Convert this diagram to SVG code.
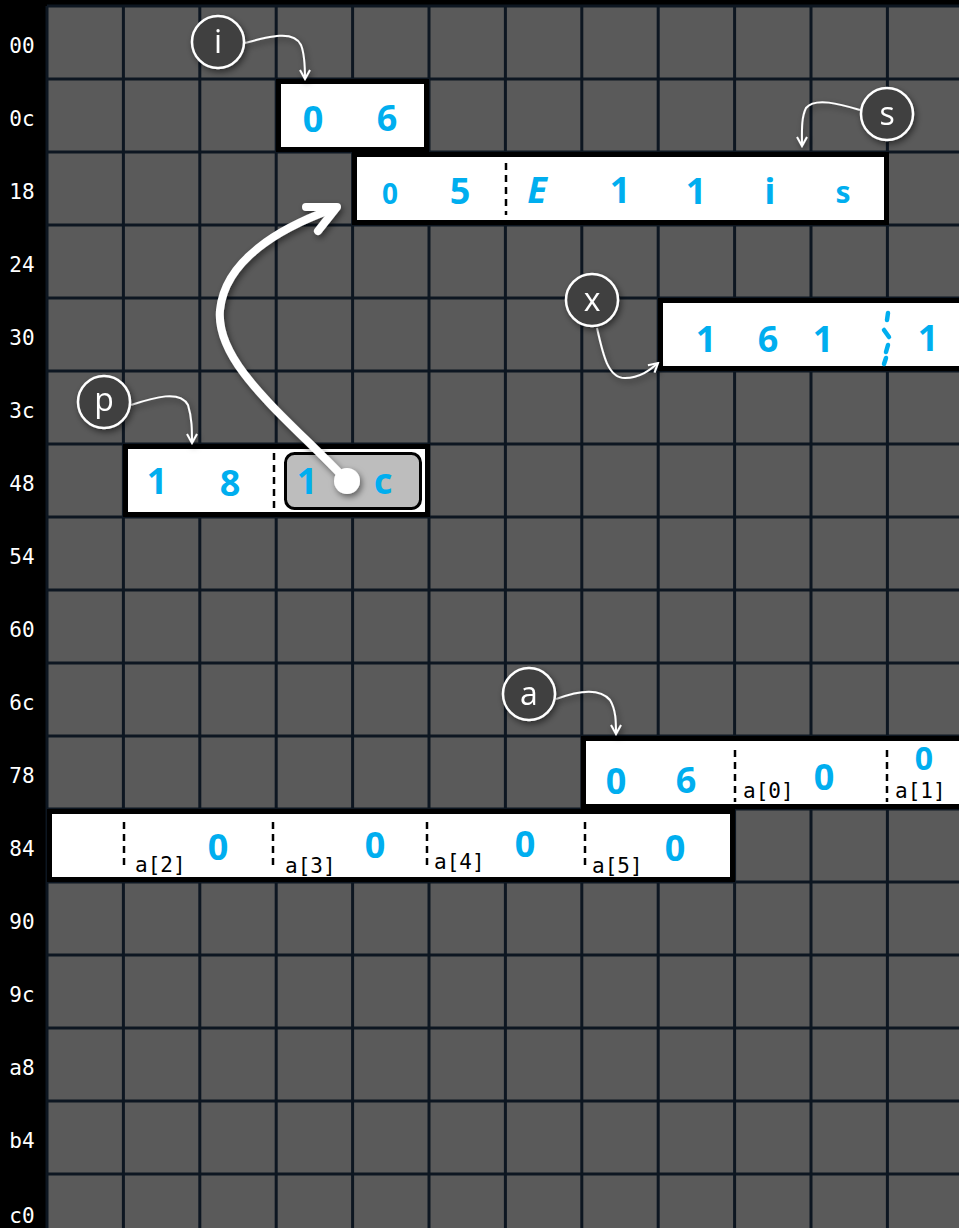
<svg xmlns="http://www.w3.org/2000/svg" width="959" height="1228" viewBox="0 0 959 1228">
<style>
.rl{font-family:"DejaVu Sans Mono","Liberation Mono",monospace;font-size:21px;fill:#fff;text-anchor:middle}
.gl{stroke:#0d1621;stroke-width:3}
.box{fill:#fff;stroke:#000;stroke-width:5}
.hw{font-family:"Noto Sans","DejaVu Sans",sans-serif;font-weight:bold;font-size:36px;fill:#00aeef;text-anchor:middle}
.sm{font-family:"DejaVu Sans Mono","Liberation Mono",monospace;font-size:21px;fill:#000}
.sep{stroke:#000;stroke-width:2.5;stroke-dasharray:7,5}
.lc{fill:#404040;stroke:#fff;stroke-width:2.5}
.lt{font-family:"Open Sans","Liberation Sans",sans-serif;font-size:32px;fill:#fff;text-anchor:middle}
.la{fill:none;stroke:#fff;stroke-width:2}
</style>
<defs>
<filter id="sh" x="-30%" y="-30%" width="160%" height="160%"><feDropShadow dx="2" dy="3" stdDeviation="3" flood-color="#000" flood-opacity="0.5"/></filter>
<marker id="ah" viewBox="0 0 12 12" refX="10" refY="6" markerWidth="12" markerHeight="12" markerUnits="userSpaceOnUse" orient="auto"><path d="M1,1 L10,6 L1,11" fill="none" stroke="#fff" stroke-width="2"/></marker>
</defs>
<rect x="0" y="0" width="959" height="1228" fill="#000"/>
<rect x="47" y="6" width="912" height="1222" fill="#5a5a5a"/>
<g id="grid">
<g class="gl">
<line x1="47" y1="6" x2="47" y2="1228"/><line x1="123.4" y1="6" x2="123.4" y2="1228"/><line x1="199.8" y1="6" x2="199.8" y2="1228"/><line x1="276.2" y1="6" x2="276.2" y2="1228"/><line x1="352.6" y1="6" x2="352.6" y2="1228"/><line x1="429" y1="6" x2="429" y2="1228"/><line x1="505.4" y1="6" x2="505.4" y2="1228"/><line x1="581.8" y1="6" x2="581.8" y2="1228"/><line x1="658.2" y1="6" x2="658.2" y2="1228"/><line x1="734.6" y1="6" x2="734.6" y2="1228"/><line x1="811" y1="6" x2="811" y2="1228"/><line x1="887.4" y1="6" x2="887.4" y2="1228"/>
<line x1="47" y1="6" x2="959" y2="6"/><line x1="47" y1="79" x2="959" y2="79"/><line x1="47" y1="152" x2="959" y2="152"/><line x1="47" y1="225" x2="959" y2="225"/><line x1="47" y1="298" x2="959" y2="298"/><line x1="47" y1="371" x2="959" y2="371"/><line x1="47" y1="444" x2="959" y2="444"/><line x1="47" y1="517" x2="959" y2="517"/><line x1="47" y1="590" x2="959" y2="590"/><line x1="47" y1="663" x2="959" y2="663"/><line x1="47" y1="736" x2="959" y2="736"/><line x1="47" y1="809" x2="959" y2="809"/><line x1="47" y1="882" x2="959" y2="882"/><line x1="47" y1="955" x2="959" y2="955"/><line x1="47" y1="1028" x2="959" y2="1028"/><line x1="47" y1="1101" x2="959" y2="1101"/><line x1="47" y1="1174" x2="959" y2="1174"/>
</g>
<g class="rl">
<text x="22" y="53">00</text><text x="22" y="126">0c</text><text x="22" y="199">18</text><text x="22" y="272">24</text><text x="22" y="345">30</text><text x="22" y="418">3c</text><text x="22" y="491">48</text><text x="22" y="564">54</text><text x="22" y="637">60</text><text x="22" y="710">6c</text><text x="22" y="783">78</text><text x="22" y="856">84</text><text x="22" y="929">90</text><text x="22" y="1002">9c</text><text x="22" y="1075">a8</text><text x="22" y="1148">b4</text><text x="22" y="1223">c0</text>
</g>
</g>
<g id="box-i">
<rect class="box" x="278.5" y="81.5" width="148" height="68"/>
<text class="hw" x="313" y="132">0</text><text class="hw" x="387" y="131">6</text>
</g>
<g id="box-s">
<rect class="box" x="354.5" y="154.5" width="532" height="68"/>
<text class="hw" x="390" y="204" style="font-size:28px">0</text><text class="hw" x="460" y="204">5</text>
<line class="sep" x1="506" y1="163" x2="506" y2="215"/>
<text class="hw" x="537" y="203" style="font-style:italic">E</text><text class="hw" x="620" y="203">1</text><text class="hw" x="696" y="204">1</text><text class="hw" x="770" y="204">i</text><text class="hw" x="843" y="203" style="font-size:30px">s</text>
</g>
<g id="box-x">
<rect class="box" x="660.5" y="300.5" width="305" height="68"/>
<text class="hw" x="706" y="352">1</text><text class="hw" x="768" y="352">6</text><text class="hw" x="823" y="352">1</text>
<path d="M888,313 L887,320 M884,330 L889,337 M888,345 L886,352 M886,358 L884,364" fill="none" stroke="#00aeef" stroke-width="4.5" stroke-linecap="round"/>
<text class="hw" x="928" y="351">1</text>
</g>
<g id="box-p">
<rect class="box" x="125.5" y="446.5" width="302" height="68"/>
<text class="hw" x="157" y="494">1</text><text class="hw" x="230" y="496">8</text>
<line class="sep" x1="274" y1="453" x2="274" y2="508"/>
<rect x="285.5" y="453.5" width="135" height="55" rx="9" fill="#bdbdbd" stroke="#000" stroke-width="3"/>
<text class="hw" x="307" y="494">1</text><text class="hw" x="383" y="494">c</text>
</g>
<g id="box-a1">
<rect class="box" x="583.5" y="738.5" width="382" height="68"/>
<text class="hw" x="616" y="794">0</text><text class="hw" x="686" y="793">6</text>
<line class="sep" x1="735" y1="750" x2="735" y2="802"/>
<text class="sm" x="743" y="798">a[0]</text>
<text class="hw" x="824" y="790">0</text>
<line class="sep" x1="887" y1="750" x2="887" y2="802"/>
<text class="hw" x="924" y="770" style="font-size:32px">0</text>
<text class="sm" x="895" y="798">a[1]</text>
</g>
<g id="box-a2">
<rect class="box" x="49.5" y="811.5" width="683" height="68"/>
<line class="sep" x1="124" y1="822" x2="124" y2="869"/>
<text class="sm" x="135" y="872">a[2]</text><text class="hw" x="218" y="860">0</text>
<line class="sep" x1="273" y1="822" x2="273" y2="869"/>
<text class="sm" x="285" y="873">a[3]</text><text class="hw" x="375" y="858">0</text>
<line class="sep" x1="427" y1="822" x2="427" y2="869"/>
<text class="sm" x="434" y="869">a[4]</text><text class="hw" x="525" y="857">0</text>
<line class="sep" x1="585" y1="822" x2="585" y2="869"/>
<text class="sm" x="592" y="873">a[5]</text><text class="hw" x="675" y="861">0</text>
</g>
<g id="connectors">
<g class="la" marker-end="url(#ah)" filter="url(#sh)">
<path d="M245,43 C270,36 294,30 301,45 C305,55 305,68 305,79"/>
<path d="M860,110 C840,104 815,97 806,108 C801,118 802,132 802,146"/>
<path d="M597,328 C603,355 608,378 625,378 C640,378 650,370 658,363"/>
<path d="M131,405 C155,397 180,390 188,405 C192,418 192,430 192,443"/>
<path d="M556,699 C580,690 600,688 610,700 C616,710 616,722 616,734"/>
</g>
<g filter="url(#sh)">
<path d="M347,481 C290,420 215,365 220,310 C225,260 280,228 330,210" fill="none" stroke="#fff" stroke-width="8" stroke-linecap="round"/>
<path d="M306,207 L337,207 L318,231" fill="none" stroke="#fff" stroke-width="8" stroke-linecap="round" stroke-linejoin="round"/>
<circle cx="347" cy="481" r="13" fill="#fff"/>
</g>
</g>
<g id="label-i" filter="url(#sh)"><circle class="lc" cx="218" cy="42" r="26"/><text class="lt" x="218" y="53">i</text></g>
<g id="label-s" filter="url(#sh)"><circle class="lc" cx="887" cy="114" r="26"/><text class="lt" x="887" y="125">s</text></g>
<g id="label-x" filter="url(#sh)"><circle class="lc" cx="592" cy="300" r="26"/><text class="lt" x="592" y="311">x</text></g>
<g id="label-p" filter="url(#sh)"><circle class="lc" cx="104" cy="402" r="26"/><text class="lt" x="104" y="411">p</text></g>
<g id="label-a" filter="url(#sh)"><circle class="lc" cx="529" cy="694" r="26"/><text class="lt" x="529" y="705">a</text></g>
</svg>
